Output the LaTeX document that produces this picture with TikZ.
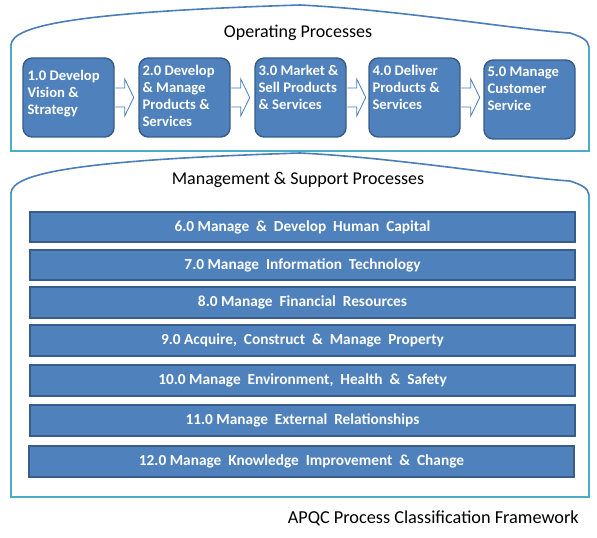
\documentclass[tikz,border=0pt]{standalone}
\usepackage{fontspec}
\setmainfont{Carlito}
\usetikzlibrary{calc}
\definecolor{boxfill}{HTML}{4F81BD}
\definecolor{boxline}{HTML}{385D8A}
\definecolor{contteal}{HTML}{4BACC6}
\definecolor{curveblue}{HTML}{4A7EBB}
\newcommand\barfontx{\fontsize{11.5}{13}\selectfont\bfseries}
\newcommand\wsp{\hspace{0.45em}}
\begin{document}
\begin{tikzpicture}[x=0.75pt,y=-0.75pt,
 proc/.style={draw=boxline,fill=boxfill,line width=1.1pt,rounded corners=7pt,minimum width=68.25pt,minimum height=59.25pt,inner sep=0pt},
 ptext/.style={anchor=north west,inner sep=0pt,text=white,font=\fontsize{11}{12.75}\selectfont\bfseries,align=left},
 bar/.style={draw=boxline,fill=boxfill,line width=1.3pt,minimum width=408.75pt,minimum height=22.9pt,inner sep=0pt,text=white,font=\barfontx},
 title/.style={font=\fontsize{13.5}{16}\selectfont,inner sep=0pt},
 contline/.style={draw=contteal,line width=1.5pt},
 curveline/.style={draw=curveblue,line width=1.2pt},
 blockarr/.style={draw=curveblue,fill=white,line width=0.6pt,line join=miter}
]
\useasboundingbox (0,0) rectangle (597,538);
% containers
\draw[contline] (11,45) -- (11,151) -- (589,151) -- (589,47);
\draw[curveline] (11,45) .. controls (12,25) and (80,12) .. (300,5)
  .. controls (400,10) and (520,30) .. (570,33) .. controls (582,37) and (588,40) .. (589,47);
\draw[contline] (11,193) -- (11,497) -- (589,497) -- (589,195);
\draw[curveline] (11,193) .. controls (12,173) and (80,160) .. (300,153)
  .. controls (400,158) and (520,178) .. (570,181) .. controls (582,185) and (588,188) .. (589,195);
\node[title] (t1) at (298,33) {Operating Processes};
\node[title] (t2) at (298,180) {Management \& Support Processes};
% process boxes
\node[proc] (p1) at (68.5,97.5) {};
\node[proc] (p2) at (184.5,97.5) {};
\node[proc] (p3) at (300.5,97.5) {};
\node[proc] (p4) at (414.5,97.5) {};
\node[proc] (p5) at (529.5,99.5) {};
\node[ptext] (x1) at ($(p1.north west)+(5,13)$) {1.0 Develop\\Vision \&\\Strategy};
\node[ptext] (x2) at ($(p2.north west)+(4,8)$) {2.0 Develop\\\& Manage\\Products \&\\Services};
\node[ptext] (x3) at ($(p3.north west)+(4,8)$) {3.0 Market \&\\Sell Products\\\& Services};
\node[ptext] (x4) at ($(p4.north west)+(4,8)$) {4.0 Deliver\\Products \&\\Services};
\node[ptext] (x5) at ($(p5.north west)+(4,7)$) {5.0 Manage\\Customer\\Service};
% block arrows
\foreach \a in {p1,p2,p3,p4}{
  \draw[blockarr] ($(\a.east)+(0.6,-9.5)$) -- ++(9.4,0) -- ++(0,-9) -- ++(9,18.5) -- ++(-9,18.5) -- ++(0,-9) -- ++(-9.4,0);
}
% bars
\node[bar] (b6) at (302.5,227) {6.0 Manage\wsp\&\wsp Develop\wsp Human\wsp Capital};
\node[bar] (b7) at (302.5,265) {7.0 Manage\wsp Information\wsp Technology};
\node[bar] (b8) at (302.5,302.5) {8.0 Manage\wsp Financial\wsp Resources};
\node[bar] (b9) at (302.5,340.5) {9.0 Acquire,\wsp Construct\wsp\&\wsp Manage\wsp Property};
\node[bar] (b10) at (302.5,380.5) {10.0 Manage\wsp Environment,\wsp Health\wsp\&\wsp Safety};
\node[bar] (b11) at (302.5,420.5) {11.0 Manage\wsp External\wsp Relationships};
\node[bar] (b12) at (301.5,461.5) {12.0 Manage\wsp Knowledge\wsp Improvement\wsp\&\wsp Change};
\node[title,anchor=east,font=\fontsize{13.7}{16}\selectfont] (cap) at (579,518) {APQC Process Classification Framework};
\end{tikzpicture}
\end{document}
